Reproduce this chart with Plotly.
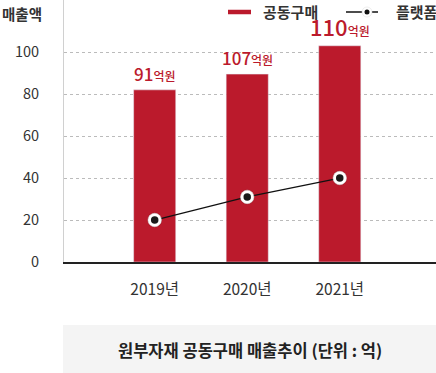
import plotly.graph_objects as go

categories = ["2019년", "2020년", "2021년"]
bar_values = [82, 89.5, 103]
bar_labels = ["91", "107", "110"]
line_values = [20, 31, 40]
y_ticks = [0, 20, 40, 60, 80, 100]

RED = "#bb1a2c"
FONT = "Noto Sans CJK KR"

fig = go.Figure()
fig.add_trace(go.Bar(x=[0, 1, 2], y=bar_values, marker_color=RED, width=0.455,
                     name="공동구매", showlegend=False))
fig.add_trace(go.Scatter(x=[0, 1, 2], y=line_values, mode="lines",
                         line=dict(color="#111", width=1.3), showlegend=False))
fig.add_trace(go.Scatter(x=[0, 1, 2], y=line_values, mode="markers",
                         marker=dict(size=15, color="rgba(0,0,0,0.12)"), showlegend=False))
fig.add_trace(go.Scatter(x=[0, 1, 2], y=line_values, mode="markers",
                         marker=dict(size=13.5, color="white", line=dict(color="#ddd", width=0.5)),
                         showlegend=False))
fig.add_trace(go.Scatter(x=[0, 1, 2], y=line_values, mode="markers",
                         marker=dict(size=7.5, color="#1a1a1a"), showlegend=False))

sizes = [17, 17, 22]
annotations = []
for i, (v, lab) in enumerate(zip(bar_values, bar_labels)):
    annotations.append(dict(
        x=i, y=v, xref="x", yref="y", yanchor="bottom", yshift=2,
        text=f"{lab}<span style='font-size:12px'>억원</span>",
        showarrow=False, font=dict(family=FONT, size=sizes[i], color=RED, weight=500)))

def px_x(p):
    return (p - 64) / 372

def px_y(p):
    return (262 - p) / 262

annotations += [
    dict(x=px_x(0), y=px_y(13), xref="paper", yref="paper", xanchor="left", yanchor="middle",
         text="매출액", showarrow=False, font=dict(family=FONT, size=14.5, color="#333", weight=600)),
    dict(x=px_x(261), y=px_y(12), xref="paper", yref="paper", xanchor="left", yanchor="middle",
         text="공동구매", showarrow=False, font=dict(family=FONT, size=15, color="#333", weight=700)),
    dict(x=px_x(394), y=px_y(12), xref="paper", yref="paper", xanchor="left", yanchor="middle",
         text="플랫폼", showarrow=False, font=dict(family=FONT, size=15, color="#333", weight=700)),
    dict(x=px_x(250), y=px_y(350), xref="paper", yref="paper", xanchor="center", yanchor="middle",
         text="원부자재 공동구매 매출추이 (단위 : 억)", showarrow=False,
         font=dict(family=FONT, size=16.5, color="#222", weight=700)),
]

shapes = [
    dict(type="rect", xref="paper", yref="paper", x0=px_x(63), x1=1.0, y0=px_y(373), y1=px_y(325),
         fillcolor="#f4f4f4", line=dict(width=0), layer="below"),
    dict(type="line", xref="paper", yref="paper", x0=px_x(228), x1=px_x(251), y0=px_y(12), y1=px_y(12),
         line=dict(color=RED, width=4.5)),
    dict(type="line", xref="paper", yref="paper", x0=px_x(346), x1=px_x(378), y0=px_y(12), y1=px_y(12),
         line=dict(color="#111", width=1.5)),
    dict(type="circle", xref="paper", yref="paper", x0=px_x(362), x1=px_x(372), y0=px_y(17), y1=px_y(7),
         fillcolor="white", line=dict(color="#ddd", width=0.5)),
    dict(type="circle", xref="paper", yref="paper", x0=px_x(364.5), x1=px_x(369.5), y0=px_y(14.5), y1=px_y(9.5),
         fillcolor="#111", line=dict(width=0)),
]

fig.update_layout(
    width=436, height=373,
    margin=dict(l=64, r=0, t=0, b=111),
    paper_bgcolor="white", plot_bgcolor="white",
    font=dict(family=FONT, color="#333"),
    showlegend=False,
    annotations=annotations, shapes=shapes,
    xaxis=dict(range=[-0.98, 3.04], tickmode="array", tickvals=[0, 1, 2], ticktext=categories,
               showgrid=False, zeroline=False, showline=True, linecolor="#222", linewidth=1.5,
               tickfont=dict(size=15.5, color="#333"), ticks="", ticklabelstandoff=13,
               fixedrange=True),
    yaxis=dict(range=[0, 124.8], tickmode="array", tickvals=y_ticks,
               showgrid=True, gridcolor="#bbb", griddash="dot", gridwidth=1,
               zeroline=False, showline=True, linecolor="#d0d0d0", linewidth=1,
               tickfont=dict(size=14.5, color="#333"), ticks="", ticklabelstandoff=21,
               fixedrange=True),
)

fig.write_html("out.html", config={"displayModeBar": False},
               post_script="document.body.style.margin='0';document.body.style.overflow='hidden';")
